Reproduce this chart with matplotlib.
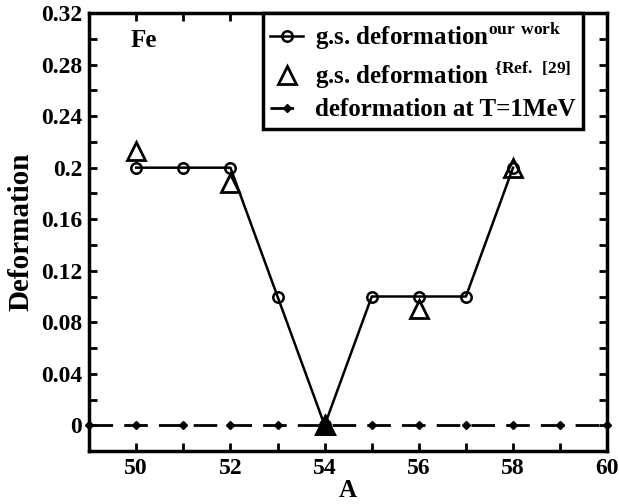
import numpy as np
import matplotlib.pyplot as plt
from matplotlib.ticker import MultipleLocator
from matplotlib.legend_handler import HandlerLine2D

plt.rcParams['font.family'] = 'Liberation Serif'
plt.rcParams['font.weight'] = 'bold'
plt.rcParams['mathtext.fontset'] = 'custom'
plt.rcParams['mathtext.rm'] = 'Liberation Serif:bold'
plt.rcParams['mathtext.bf'] = 'Liberation Serif:bold'

# g.s. deformation, our work
A_gs = [50, 51, 52, 53, 54, 55, 56, 57, 58]
def_gs = [0.2, 0.2, 0.2, 0.1, 0.0, 0.1, 0.1, 0.1, 0.2]

# g.s. deformation, Ref. [29]
A_ref = [50, 52, 54, 56, 58]
def_ref = [0.213, 0.188, 0.0, 0.09, 0.2]

# deformation at T = 1 MeV
A_T = [49, 50, 51, 52, 53, 54, 55, 56, 57, 58, 59, 60]
def_T = [0.0] * 12

ytick_vals = [0, 0.04, 0.08, 0.12, 0.16, 0.2, 0.24, 0.28, 0.32]
ytick_text = ['0', '0.04', '0.08', '0.12', '0.16', '0.2', '0.24', '0.28', '0.32']

fig = plt.figure(figsize=(6.19, 5.04), dpi=100)
ax = fig.add_axes([0.144, 0.105, 0.837, 0.869])

l_gs, = ax.plot(A_gs, def_gs, color='black', lw=1.8, marker='o', ms=7.5,
                mfc='none', mec='black', mew=1.8,
                label=r'g.s. deformation$^{\mathbf{our\ work}}$')
l_ref, = ax.plot(A_ref, def_ref, ls='none', marker='^', ms=12.5, mfc='none',
                 mec='black', mew=2,
                 label=r'g.s. deformation $^{\mathbf{\{Ref.\ [29]}}$')
# the ref point sitting on the zero line is drawn solid
A_zero = [a for a, d in zip(A_ref, def_ref) if d == 0]
ax.plot(A_zero, [0.0] * len(A_zero), ls='none', marker='^', ms=12.5,
        mfc='black', mec='black', mew=2, zorder=3)
l_T, = ax.plot(A_T, def_T, color='black', lw=2, ls=(0, (8.5, 4)), marker='D',
               ms=4, mfc='black', mec='black', clip_on=False,
               label='deformation at T=1MeV')

ax.set_xlim(49, 60)
ax.set_ylim(-0.02, 0.32)
ax.xaxis.set_major_locator(MultipleLocator(2))
ax.xaxis.set_minor_locator(MultipleLocator(1))
ax.yaxis.set_minor_locator(MultipleLocator(0.02))
ax.set_yticks(ytick_vals)
ax.set_yticklabels(ytick_text)
ax.tick_params(which='both', direction='in', top=True, right=True,
               labelsize=17, width=2, pad=5)
ax.tick_params(which='major', length=6)
ax.tick_params(which='minor', length=6)
for s in ax.spines.values():
    s.set_linewidth(2.5)

ax.set_xlabel('A', fontsize=18, fontweight='bold', labelpad=0)
ax.set_ylabel('Deformation', fontsize=21, fontweight='bold', labelpad=5)
ax.text(49.87, 0.299, 'Fe', fontsize=18, fontweight='bold', va='center')

leg = ax.legend(handles=[l_gs, l_ref, l_T], loc='upper right',
                bbox_to_anchor=(0.954, 1.0), fontsize=18, frameon=True,
                fancybox=False, edgecolor='black', framealpha=1,
                handlelength=1.3, handletextpad=0.5, borderpad=0.3,
                labelspacing=0.3, borderaxespad=0,
                handler_map={l_ref: HandlerLine2D(numpoints=1)})
leg.get_frame().set_linewidth(2.5)

plt.savefig('out.png', dpi=100)
